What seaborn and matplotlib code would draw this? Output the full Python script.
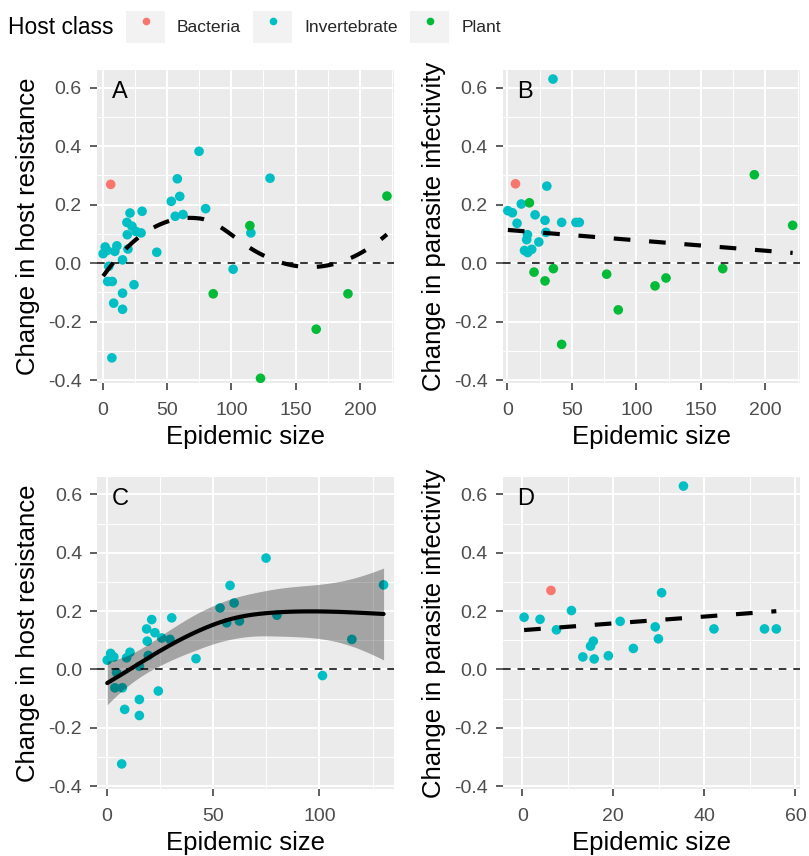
import numpy as np
import pandas as pd
import matplotlib
matplotlib.use("Agg")
import matplotlib.pyplot as plt
from matplotlib.patches import Rectangle
from matplotlib.lines import Line2D
from matplotlib.legend_handler import HandlerTuple
from matplotlib.ticker import MultipleLocator
import seaborn as sns

# ---- data -------------------------------------------------------------
# Change in host resistance vs epidemic size
res_inv_x = [0.3, 1.9, 3.4, 4.7, 3.9, 7.4, 7.1, 8.5, 9.4, 11.0, 15.4, 15.4, 15.4,
             18.8, 19.1, 19.6, 21.2, 22.7, 24.3, 25.9, 29.8, 30.6, 42.0, 53.3,
             56.4, 58.0, 59.9, 62.4, 74.9, 80.0, 101.4, 115.2, 130.1]
res_inv_y = [0.032, 0.055, 0.043, -0.011, -0.063, -0.063, -0.324, -0.137, 0.040,
             0.059, 0.011, -0.103, -0.158, 0.139, 0.097, 0.048, 0.171, 0.126,
             -0.074, 0.108, 0.103, 0.177, 0.037, 0.211, 0.160, 0.288, 0.228,
             0.166, 0.382, 0.186, -0.021, 0.103, 0.290]
res_bac_x = [6.2]
res_bac_y = [0.269]
res_pla_x = [85.9, 114.4, 122.7, 166.0, 190.7, 221.0]
res_pla_y = [-0.105, 0.128, -0.394, -0.226, -0.105, 0.229]

# Change in parasite infectivity vs epidemic size
inf_inv_x = [0.4, 3.9, 7.5, 10.8, 13.3, 15.0, 15.6, 15.8, 18.9, 21.5, 24.4,
             29.2, 29.9, 30.6, 35.4, 42.1, 53.2, 55.8]
inf_inv_y = [0.179, 0.172, 0.136, 0.202, 0.043, 0.080, 0.097, 0.036, 0.047,
             0.165, 0.072, 0.146, 0.105, 0.263, 0.629, 0.139, 0.139, 0.139]
inf_bac_x = [6.3]
inf_bac_y = [0.271]
inf_pla_x = [17.1, 20.7, 29.2, 35.7, 42.1, 77.0, 86.0, 114.5, 123.0, 167.0,
             191.5, 221.2]
inf_pla_y = [0.206, -0.031, -0.061, -0.019, -0.278, -0.038, -0.160, -0.078,
             -0.051, -0.019, 0.302, 0.129]

host_classes = ["Bacteria", "Invertebrate", "Plant"]
host_colors = ["#F8766D", "#00BFC4", "#00BA38"]
y_ticks = [-0.4, -0.2, 0.0, 0.2, 0.4, 0.6]


def frame(groups):
    parts = []
    for name, xs, ys in groups:
        parts.append(pd.DataFrame({"size": xs, "change": ys, "host": name}))
    return pd.concat(parts, ignore_index=True)


res_all = frame([("Bacteria", res_bac_x, res_bac_y),
                 ("Invertebrate", res_inv_x, res_inv_y),
                 ("Plant", res_pla_x, res_pla_y)])
res_inv = frame([("Invertebrate", res_inv_x, res_inv_y)])
inf_all = frame([("Bacteria", inf_bac_x, inf_bac_y),
                 ("Invertebrate", inf_inv_x, inf_inv_y),
                 ("Plant", inf_pla_x, inf_pla_y)])
inf_nopl = frame([("Bacteria", inf_bac_x, inf_bac_y),
                  ("Invertebrate", inf_inv_x, inf_inv_y)])


def t975(df):
    z = 1.959964
    return (z + (z ** 3 + z) / (4 * df)
            + (5 * z ** 5 + 16 * z ** 3 + 3 * z) / (96 * df ** 2))


# ---- loess (local quadratic, kd-tree vertices, Hermite blending) -------
def local_rows(x, x0, q, f):
    n = len(x)
    d = np.abs(x - x0)
    h = np.sort(d)[q - 1] * max(1.0, f)
    w = np.clip(1 - (d / h) ** 3, 0, None) ** 3
    X = np.column_stack([np.ones(n), x - x0, (x - x0) ** 2])
    A = X.T @ (w[:, None] * X)
    B = np.linalg.pinv(A) @ (X * w[:, None]).T
    return B[0], B[1]


def kd_vertices(xsorted, fc):
    n = len(xsorted)
    mu = 0.005 * (xsorted[-1] - xsorted[0])
    verts = {xsorted[0] - mu, xsorted[-1] + mu}

    def split(l, u, vlo, vhi):
        if u - l + 1 <= fc:
            return
        m = (l + u) // 2
        while m > l and xsorted[m - 1] == xsorted[m]:
            m -= 1
        xi = xsorted[m]
        if xi == vlo or xi == vhi:
            return
        verts.add(xi)
        split(l, m, vlo, xi)
        split(m + 1, u, xi, vhi)

    split(0, n - 1, xsorted[0] - mu, xsorted[-1] + mu)
    return np.array(sorted(verts))


def loess(x, y, span=1.0, cell=0.2, n_eval=80):
    x = np.asarray(x, float)
    y = np.asarray(y, float)
    n = len(x)
    q = min(n, int(np.floor(n * span)))
    fc = int(np.floor(n * span * cell))
    verts = kd_vertices(np.sort(x), fc)
    rows = [local_rows(x, v, q, span) for v in verts]
    vals = np.array([r[0] for r in rows]) @ y
    slopes = np.array([r[1] for r in rows]) @ y
    xs = np.linspace(x.min(), x.max(), n_eval)
    j = np.clip(np.searchsorted(verts, xs, side="right") - 1, 0, len(verts) - 2)
    h = verts[j + 1] - verts[j]
    u = (xs - verts[j]) / h
    fit = ((1 - u) ** 2 * (1 + 2 * u) * vals[j] + u ** 2 * (3 - 2 * u) * vals[j + 1]
           + h * (u * (1 - u) ** 2 * slopes[j] - u ** 2 * (1 - u) * slopes[j + 1]))
    return xs, fit


# ---- penalised cubic regression spline (shrinkage), REML ---------------
def place_knots(x, nk):
    x = np.unique(x)
    n = len(x)
    delta = (n - 1) / (nk - 1)
    idx = np.arange(1, nk - 1)
    lbi = np.floor(delta * idx).astype(int) + 1
    frac = delta * idx + 1 - lbi
    knots = np.empty(nk)
    knots[0], knots[-1] = x[0], x[-1]
    knots[1:-1] = x[lbi - 1] * (1 - frac) + x[lbi] * frac
    return knots


def cr_setup(knots):
    k = len(knots)
    h = np.diff(knots)
    D = np.zeros((k - 2, k))
    B = np.zeros((k - 2, k - 2))
    for i in range(k - 2):
        D[i, i] = 1 / h[i]
        D[i, i + 1] = -1 / h[i] - 1 / h[i + 1]
        D[i, i + 2] = 1 / h[i + 1]
        B[i, i] = (h[i] + h[i + 1]) / 3
        if i < k - 3:
            B[i, i + 1] = B[i + 1, i] = h[i + 1] / 6
    Fp = np.vstack([np.zeros(k), np.linalg.solve(B, D), np.zeros(k)])
    S = D.T @ np.linalg.solve(B, D)
    return Fp, S


def cr_design(x, knots, Fp):
    k = len(knots)
    X = np.zeros((len(x), k))
    for r, xv in enumerate(x):
        j = min(max(np.searchsorted(knots, xv, side="right") - 1, 0), k - 2)
        hj = knots[j + 1] - knots[j]
        am = (knots[j + 1] - xv) / hj
        ap = (xv - knots[j]) / hj
        cm = ((knots[j + 1] - xv) ** 3 / hj - hj * (knots[j + 1] - xv)) / 6
        cp = ((xv - knots[j]) ** 3 / hj - hj * (xv - knots[j])) / 6
        row = cm * Fp[j] + cp * Fp[j + 1]
        row[j] += am
        row[j + 1] += ap
        X[r] = row
    return X


def gam_smooth(x, y, k=10, n_eval=80):
    x = np.asarray(x, float)
    y = np.asarray(y, float)
    n = len(x)
    knots = place_knots(x, k)
    Fp, S = cr_setup(knots)
    ev, U = np.linalg.eigh(S)
    ev, U = ev[::-1].copy(), U[:, ::-1]
    ev[k - 2] = ev[k - 3] * 0.1
    ev[k - 1] = ev[k - 2] * 0.1
    S = U @ np.diag(ev) @ U.T
    Xs = cr_design(x, knots, Fp)
    Q, _ = np.linalg.qr(Xs.sum(axis=0)[:, None], mode="complete")
    Z = Q[:, 1:]
    XZ = Xs @ Z
    SZ = Z.T @ S @ Z
    SZ = SZ / np.linalg.norm(SZ) * np.linalg.norm(XZ.T @ XZ)
    X = np.column_stack([np.ones(n), XZ])
    p = X.shape[1]
    Sf = np.zeros((p, p))
    Sf[1:, 1:] = SZ
    logdetS = np.linalg.slogdet(SZ)[1]
    best = None
    for rho in np.linspace(-15, 15, 3001):
        lam = np.exp(rho)
        A = X.T @ X + lam * Sf
        beta = np.linalg.solve(A, X.T @ y)
        s2 = (np.sum((y - X @ beta) ** 2) + lam * beta @ Sf @ beta) / (n - 1)
        crit = ((n - 1) / 2 * np.log(s2) + 0.5 * np.linalg.slogdet(A)[1]
                - 0.5 * ((p - 1) * rho + logdetS))
        if best is None or crit < best[0]:
            best = (crit, lam)
    A = X.T @ X + best[1] * Sf
    Ainv = np.linalg.inv(A)
    beta = Ainv @ X.T @ y
    edf = np.trace(Ainv @ X.T @ X)
    s2 = np.sum((y - X @ beta) ** 2) / (n - edf)
    xs = np.linspace(x.min(), x.max(), n_eval)
    Xp = np.column_stack([np.ones(n_eval), cr_design(xs, knots, Fp) @ Z])
    se = np.sqrt(np.einsum("ij,jk,ik->i", Xp, Ainv * s2, Xp))
    return xs, Xp @ beta, t975(n - edf) * se


def linear(x, y, n_eval=80):
    x = np.asarray(x, float)
    y = np.asarray(y, float)
    b, a = np.polyfit(x, y, 1)
    xs = np.linspace(x.min(), x.max(), n_eval)
    return xs, a + b * xs


# ---- styling ----------------------------------------------------------
sns.set_theme(style="darkgrid", rc={
    "axes.facecolor": "#EBEBEB",
    "grid.color": "white",
    "axes.edgecolor": "#EBEBEB",
    "xtick.color": "#333333",
    "ytick.color": "#333333",
    "xtick.labelcolor": "#4D4D4D",
    "ytick.labelcolor": "#4D4D4D",
    "axes.labelcolor": "black",
})
plt.rcParams["font.family"] = ["Liberation Sans", "DejaVu Sans"]

fig = plt.figure(figsize=(8.09, 8.56), dpi=100)
W, H = 809, 856


def axes_at(l, t, r, b):
    return fig.add_axes([l / W, 1 - b / H, (r - l) / W, (b - t) / H])


axA = axes_at(96.7, 70, 394, 383)
axB = axes_at(502.7, 70, 800, 383)
axC = axes_at(97, 477, 394, 789)
axD = axes_at(502.7, 477, 800, 789)

dash_thick = (0, (4, 4.5))
line_lw = 3.0


def style(ax, xlim, xmajor, ylabel, letter):
    ax.set_xlim(*xlim)
    ax.set_ylim(-0.41, 0.66)
    ax.xaxis.set_major_locator(MultipleLocator(xmajor))
    ax.xaxis.set_minor_locator(MultipleLocator(xmajor / 2))
    ax.set_yticks(y_ticks)
    ax.set_yticklabels([f"{v:.1f}" for v in y_ticks])
    ax.yaxis.set_minor_locator(MultipleLocator(0.1))
    ax.grid(which="major", color="white", lw=1.4)
    ax.grid(which="minor", color="white", lw=0.7)
    ax.set_axisbelow(True)
    for s in ax.spines.values():
        s.set_visible(False)
    ax.tick_params(which="major", length=4.8, width=1.1, labelsize=14,
                   bottom=True, left=True)
    ax.tick_params(axis="x", which="major", pad=9)
    ax.tick_params(axis="y", which="major", pad=6)
    ax.tick_params(which="minor", length=0)
    ax.set_xlabel("Epidemic size", fontsize=18.5, labelpad=4)
    ax.set_ylabel(ylabel, fontsize=18.5, labelpad=6)
    ax.axhline(0, color="black", lw=1.1, ls=(0, (5, 4.5)), zorder=2.5)
    ax.text(0.05, 0.93, letter, transform=ax.transAxes, fontsize=17,
            ha="left", va="center", color="black")


def points(ax, df, order):
    sns.scatterplot(data=df, x="size", y="change", hue="host",
                    hue_order=order,
                    palette=[host_colors[host_classes.index(h)] for h in order],
                    s=48, linewidth=0, legend=False, ax=ax, zorder=2)


# A: resistance, all host classes, loess
points(axA, res_all, host_classes)
xs, fit = loess(res_all["size"], res_all["change"], span=1.0)
axA.plot(xs, fit, color="black", lw=line_lw, ls=dash_thick, zorder=3)
style(axA, (-4.7, 226.5), 50, "Change in host resistance", "A")

# B: infectivity, all host classes, linear fit
points(axB, inf_all, host_classes)
xs, fit = linear(inf_all["size"], inf_all["change"])
axB.plot(xs, fit, color="black", lw=line_lw, ls=dash_thick, zorder=3)
style(axB, (-3.6, 226.9), 50, "Change in parasite infectivity", "B")

# C: resistance, invertebrates only, spline smooth with 95% band
points(axC, res_inv, ["Invertebrate"])
xs, fit, half = gam_smooth(res_inv["size"], res_inv["change"])
axC.fill_between(xs, fit - half, fit + half, color="black", alpha=0.3,
                 lw=0, zorder=3)
axC.plot(xs, fit, color="black", lw=line_lw, zorder=4)
style(axC, (-4.5, 135), 50, "Change in host resistance", "C")

# D: infectivity without plants, linear fit
points(axD, inf_nopl, ["Bacteria", "Invertebrate"])
xs, fit = linear(inf_nopl["size"], inf_nopl["change"])
axD.plot(xs, fit, color="black", lw=line_lw, ls=dash_thick, zorder=3)
style(axD, (-4.3, 61), 20, "Change in parasite infectivity", "D")

# ---- legend -----------------------------------------------------------
fig.text(8 / W, 1 - 27 / H, "Host class", fontsize=16.4, ha="left",
         va="center", color="black")
handles = []
for c in host_colors:
    box = Rectangle((0, 0), 1, 1, facecolor="#F2F2F2", edgecolor="none")
    dot = Line2D([], [], marker="o", ls="none", markersize=5.5,
                 markerfacecolor=c, markeredgewidth=0)
    handles.append((box, dot))
fig.legend(handles, host_classes, loc="center left",
           bbox_to_anchor=(126 / W, 1 - 27 / H), ncol=3, frameon=False,
           fontsize=12.6, handlelength=2.23, handleheight=2.5,
           handletextpad=0.69, columnspacing=0.69, borderpad=0,
           borderaxespad=0,
           handler_map={tuple: HandlerTuple(ndivide=1, pad=0)})

fig.savefig("out.png", dpi=100)
